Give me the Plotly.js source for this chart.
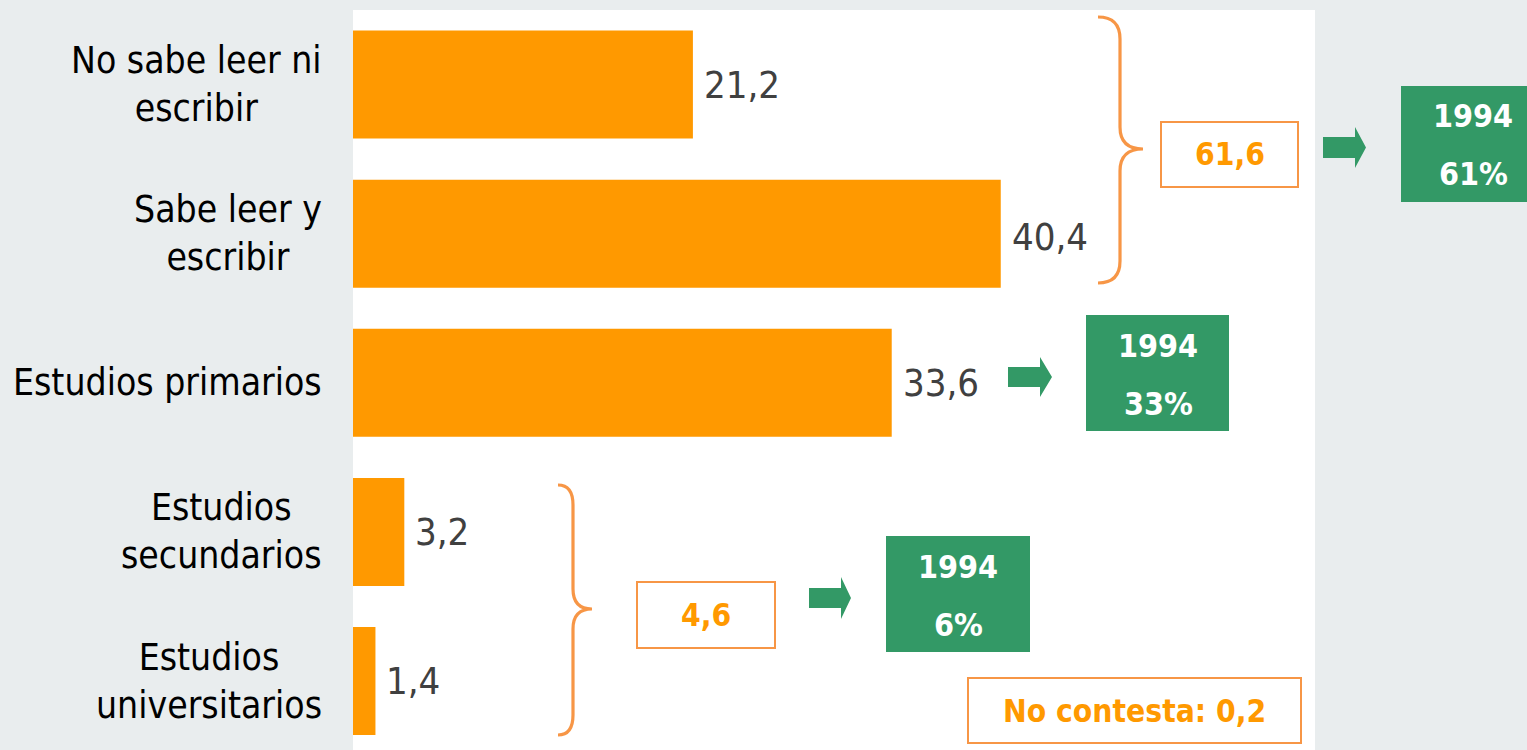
<!DOCTYPE html>
<html>
<head>
<meta charset="utf-8">
<script src="https://cdn.plot.ly/plotly-3.0.1.min.js"></script>
<style>html,body{margin:0;padding:0;background:#e9edee;}#chart{width:1527px;height:750px;}</style>
</head>
<body>
<div id="chart"></div>
<script>
// ---- data ----
const categories = ["No sabe leer ni<br>escribir", "Sabe leer y<br>escribir", "Estudios primarios", "Estudios<br>secundarios", "Estudios<br>universitarios"];
const values = [21.2, 40.4, 33.6, 3.2, 1.4];
const groupTotals = [61.6, 4.6];
const refYear = "1994";
const refPercents = [61, 33, 6];
const noContesta = 0.2;

const fmt = v => v.toFixed(1).replace('.', ',');

// ---- geometry helpers (pixel -> paper) ----
const L = 353, R = 212, T = 10, B = 0, W = 1527, H = 750;
const PW = W - L - R, PH = H - T - B;
const px = x => (x - L) / PW;
const py = y => (H - B - y) / PH;
const P = (x, y) => px(x).toFixed(5) + ',' + py(y).toFixed(5);

const ORANGE = '#ff9900', BRACE = '#f79646', GREEN = '#339966';
const LABEL_FONT = '"DejaVu Sans Condensed", "DejaVu Sans", sans-serif';

const yIdx = categories.map((c, i) => i);

const trace = {
  type: 'bar', orientation: 'h',
  x: values, y: yIdx,
  width: 0.724,
  marker: {color: ORANGE},
  hoverinfo: 'none'
};

const annotations = [];
// category labels
categories.forEach((c, i) => annotations.push({
  xref: 'paper', yref: 'y', x: 0, y: i, xanchor: 'right', yanchor: 'middle',
  xshift: -29, yshift: 0, text: c, showarrow: false, align: 'center',
  font: {family: LABEL_FONT, size: 37, color: '#000'}
}));
// value labels
values.forEach((v, i) => annotations.push({
  xref: 'x', yref: 'y', x: v, y: i, xanchor: 'left', yanchor: 'middle',
  xshift: 9, yshift: i === 1 ? -3 : 0, text: fmt(v), showarrow: false,
  font: {family: LABEL_FONT, size: 38, color: '#404040'}
}));

const shapes = [];
function brace(x0, xm, xt, y0, yt, y1, r) {
  const d = 'M' + P(x0, y0) + ' C' + P(x0 + (xm - x0) * 0.75, y0) + ' ' + P(xm, y0 + r * 0.4) + ' ' + P(xm, y0 + r) +
    ' L' + P(xm, yt - r) + ' C' + P(xm, yt - r * 0.35) + ' ' + P(xm + (xt - xm) * 0.3, yt) + ' ' + P(xt, yt) +
    ' C' + P(xm + (xt - xm) * 0.3, yt) + ' ' + P(xm, yt + r * 0.35) + ' ' + P(xm, yt + r) +
    ' L' + P(xm, y1 - r) + ' C' + P(xm, y1 - r * 0.4) + ' ' + P(x0 + (xm - x0) * 0.75, y1) + ' ' + P(x0, y1);
  shapes.push({type: 'path', xref: 'paper', yref: 'paper', path: d, line: {color: BRACE, width: 3.2}});
}
brace(1098, 1120, 1143, 17, 149, 283, 22);
brace(558, 573, 592, 485, 609, 735, 20);

function arrow(x0, hx, x1, y0, y1, sy0, sy1) {
  const ym = (y0 + y1) / 2;
  const d = 'M' + P(x0, sy0) + ' L' + P(hx, sy0) + ' L' + P(hx, y0) + ' L' + P(x1, ym) + ' L' + P(hx, y1) + ' L' + P(hx, sy1) + ' L' + P(x0, sy1) + ' Z';
  shapes.push({type: 'path', xref: 'paper', yref: 'paper', path: d, fillcolor: GREEN, line: {width: 0}});
}
arrow(1323, 1355, 1366, 127, 168, 137, 158);
arrow(1008, 1040, 1052, 357, 397, 367, 387);
arrow(809, 841, 851, 577, 619, 588, 608);

function outlineBox(x0, x1, y0, y1, text) {
  shapes.push({type: 'rect', xref: 'paper', yref: 'paper', x0: px(x0), x1: px(x1), y0: py(y1), y1: py(y0),
    line: {color: BRACE, width: 2}, fillcolor: 'rgba(0,0,0,0)'});
  annotations.push({xref: 'paper', yref: 'paper', x: px((x0 + x1) / 2), y: py((y0 + y1) / 2), xanchor: 'center', yanchor: 'middle',
    text: '<b>' + text + '</b>', showarrow: false, font: {family: LABEL_FONT, size: 31.5, color: ORANGE}});
}
outlineBox(1161, 1298, 122, 187, fmt(groupTotals[0]));
outlineBox(637, 775, 582, 648, fmt(groupTotals[1]));
outlineBox(968, 1301, 678, 743, 'No contesta: ' + fmt(noContesta));

function greenBox(x0, x1, y0, y1, cx, ty1, ty2, pct) {
  shapes.push({type: 'rect', xref: 'paper', yref: 'paper', x0: px(x0), x1: px(x1), y0: py(y1), y1: py(y0),
    line: {width: 0}, fillcolor: GREEN});
  [[ty1, refYear], [ty2, pct + '%']].forEach(([ty, t]) => annotations.push({
    xref: 'paper', yref: 'paper', x: px(cx), y: py(ty), xanchor: 'center', yanchor: 'middle',
    text: '<b>' + t + '</b>', showarrow: false, font: {family: LABEL_FONT, size: 32, color: '#ffffff'}}));
}
greenBox(1401, 1540, 86, 202, 1473, 116, 174, refPercents[0]);
greenBox(1086, 1229, 315, 431, 1158, 346, 404, refPercents[1]);
greenBox(886, 1030, 536, 652, 958, 567, 625, refPercents[2]);

const layout = {
  width: W, height: H,
  margin: {l: L, r: R, t: T, b: B, pad: 0},
  paper_bgcolor: '#e9edee', plot_bgcolor: '#ffffff',
  showlegend: false,
  xaxis: {range: [0, 60], showgrid: false, zeroline: false, showticklabels: false, ticks: '', showline: false, fixedrange: true},
  yaxis: {range: [4.462, -0.5], showgrid: false, zeroline: false, showticklabels: false, ticks: '', showline: false, fixedrange: true},
  shapes: shapes,
  annotations: annotations
};

Plotly.newPlot('chart', [trace], layout, {displayModeBar: false, staticPlot: true});
</script>
</body>
</html>
